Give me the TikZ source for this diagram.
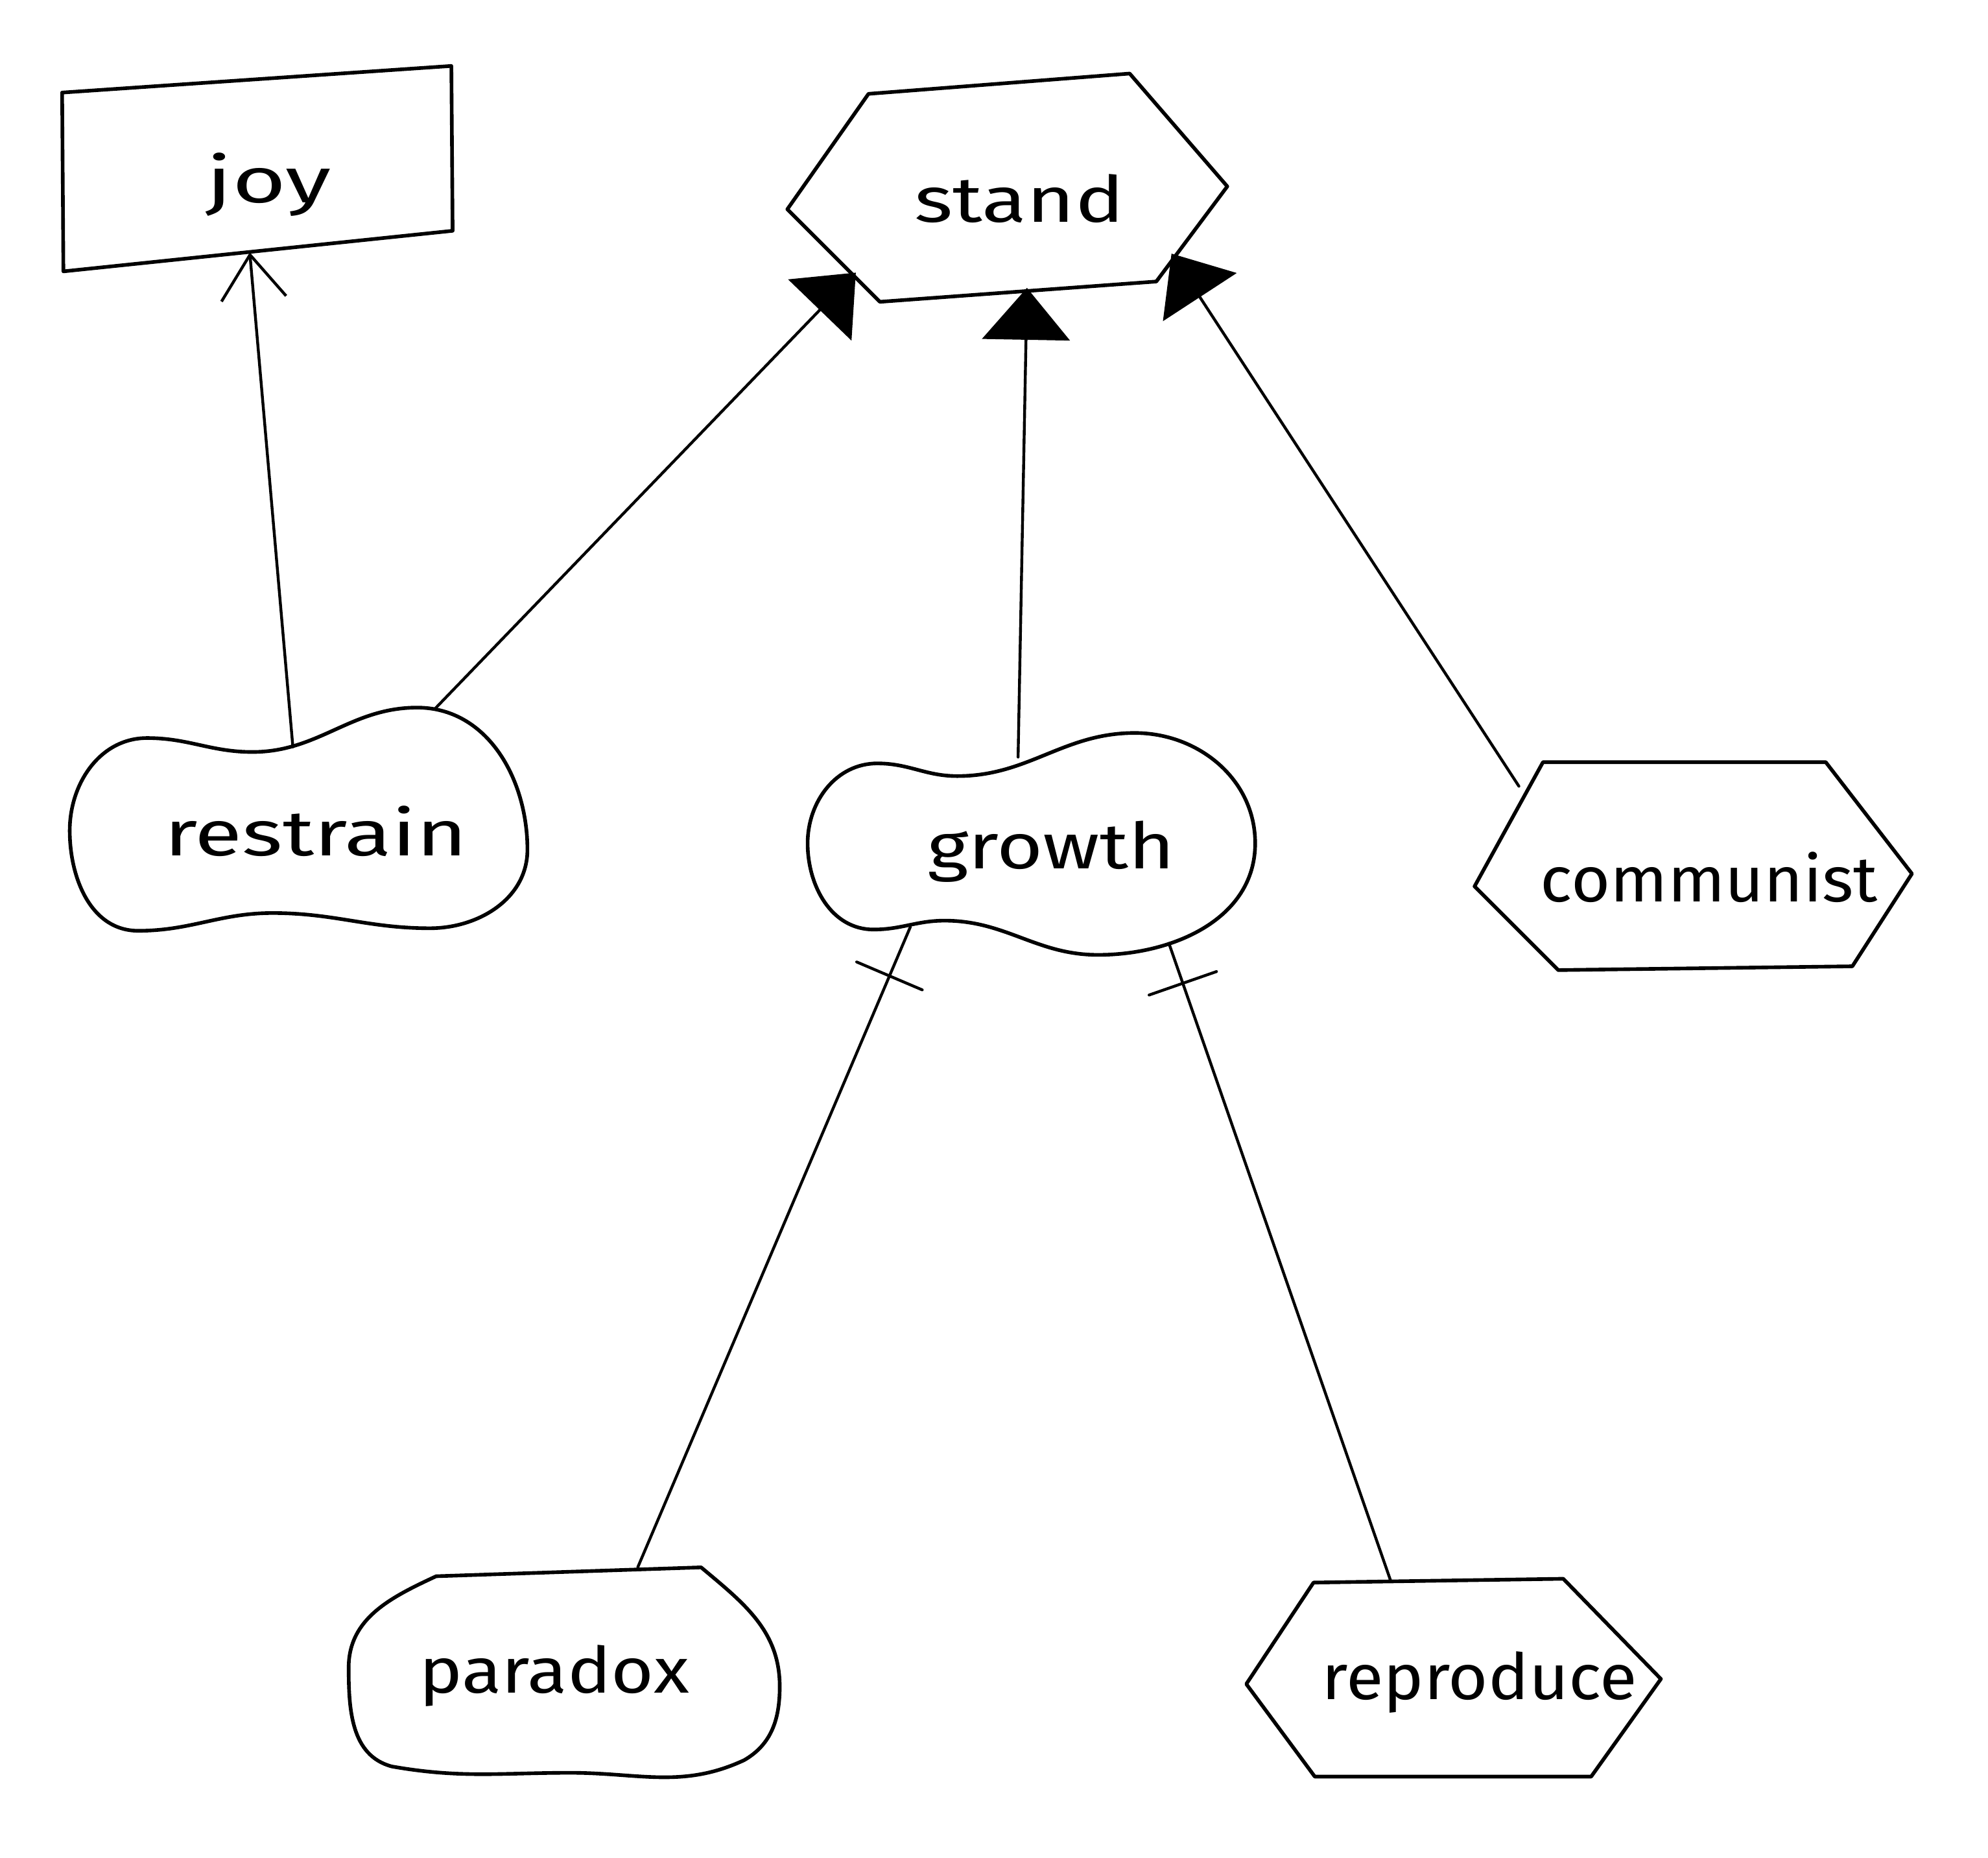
\documentclass[tikz,border=0pt]{standalone}
\usepackage{graphicx}
\usepackage{fontspec}
\newfontfamily\handfont{Fira Sans}
\usetikzlibrary{arrows.meta,decorations.markings}
% a word set a little wider than the font gives
\newcommand\wideword[2]{\scalebox{#1}[1]{#2}}
\begin{document}
\begin{tikzpicture}[x=0.01955cm,y=-0.01955cm,
  word/.style={anchor=base, inner sep=0pt, font=\handfont\fontsize{28}{34}\selectfont},
  shapeline/.style={line width=1.6pt, line join=round, line cap=round},
  connector/.style={line width=1.25pt, line cap=round},
  opentip/.style={-{Straight Barb[length=0.68cm,width=1.0cm]}},
  solidtip/.style={-{Triangle[length=0.8cm,width=1.35cm]}},
  crossbar/.style={postaction={decorate,decoration={markings,
      mark=at position #1 with {\draw[line width=1.25pt,line cap=round] (0,-0.55cm) -- (0,0.55cm);}}}}
]
\fill[white] (0,0) rectangle (1568,1465);
\useasboundingbox (0,0) rectangle (1568,1465);

% words, placed at their baselines
\node[word] (joy)       at (212,160)   {\wideword{1.45}{joy}};
\node[word] (stand)     at (804,175)   {\wideword{1.29}{stand}};
\node[word] (restrain)  at (249,675)   {\wideword{1.36}{restrain}};
\node[word] (growth)    at (829,685)   {\wideword{1.24}{growth}};
\node[word] (communist) at (1348,711)  {\wideword{1.05}{communist}};
\node[word] (paradox)   at (437,1335)  {\wideword{1.15}{paradox}};
\node[word] (reproduce) at (1167,1340) {\wideword{1.07}{reproduce}};

% outlines around the words
\draw[shapeline, shift={(joy.base)}]
  (-163,-87) -- (144,-108) -- (145,22) -- (-162,54) -- cycle;
\draw[shapeline, shift={(stand.base)}]
  (-183,-10) -- (-119,-101) -- (87,-117) -- (164,-28) -- (108,47) -- (-110,63) -- cycle;
\draw[shapeline, shift={(communist.base)}]
  (-185,-12) -- (-131,-110) -- (92,-110) -- (160,-22) -- (113,51) -- (-119,54) -- cycle;
\draw[shapeline, shift={(reproduce.base)}]
  (-184,-12) -- (-131,-92) -- (66,-95) -- (143,-16) -- (88,61) -- (-130,61) -- cycle;
\draw[shapeline, shift={(restrain.base)}]
  (-194,-20) to[out=90,in=180] (-133,-93) to[out=0,in=180] (-50,-82)
  to[out=0,in=180] (80,-117) to[out=0,in=90] (167,-5)
  to[out=-90,in=0] (90,57) to[out=180,in=0] (-34,45)
  to[out=180,in=0] (-140,59) to[out=180,in=-90] cycle;
\draw[shapeline, shift={(growth.base)}]
  (-192,-20) to[out=90,in=180] (-137,-83) to[out=0,in=180] (-74,-73)
  to[out=0,in=180] (66,-107) to[out=0,in=90] (161,-20)
  to[out=-90,in=0] (37,68) to[out=180,in=0] (-84,41)
  to[out=180,in=0] (-140,48) to[out=180,in=-90] cycle;
\draw[shapeline, shift={(paradox.base)}]
  (-93,-92) -- (116,-99) to[out=-40,in=90] (178,-5) to[out=-90,in=30] (150,53)
  to[out=-155,in=0] (13,63) to[out=180,in=-10] (-128,58)
  to[out=165,in=-90] (-162,-20) to[out=90,in=-155] cycle;

% connectors
\draw[connector, opentip]
  ([shift={(-18,-86)}]restrain.base) -- ([shift={(-15,39)}]joy.base);
\draw[connector, solidtip]
  ([shift={(94,-116)}]restrain.base) -- ([shift={(-129,40)}]stand.base);
\draw[connector, solidtip]
  ([shift={(-26,-88)}]growth.base) -- ([shift={(6,52)}]stand.base);
\draw[connector, solidtip]
  ([shift={(-150,-91)}]communist.base) -- ([shift={(120,25)}]stand.base);
\draw[connector, crossbar=0.82cm]
  ([shift={(-111,46)}]growth.base) -- ([shift={(66,-99)}]paradox.base);
\draw[connector, crossbar=0.65cm]
  ([shift={(93,59)}]growth.base) -- ([shift={(-70,-93)}]reproduce.base);
\end{tikzpicture}
\end{document}
